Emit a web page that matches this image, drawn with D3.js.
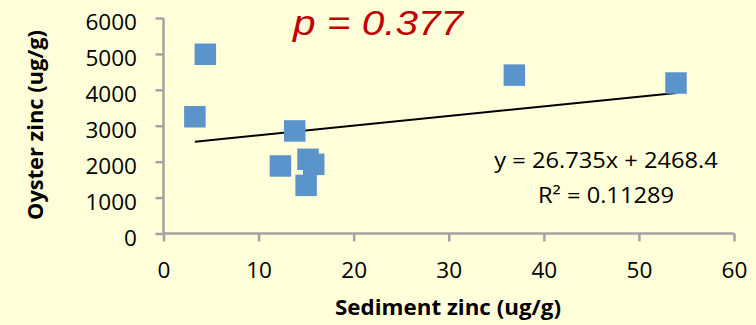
<!DOCTYPE html>
<html>
<head>
<meta charset="utf-8">
<script src="https://cdn.jsdelivr.net/npm/d3@7"></script>
<style>
  html, body { margin: 0; padding: 0; background: #FFFFD9; }
  svg { display: block; }
  text { font-family: "Open Sans", "Noto Sans", sans-serif; fill: #000; }
</style>
</head>
<body>
<svg id="chart" width="756" height="325"></svg>
<script>
// Sediment vs oyster zinc concentrations (ug/g)
const sedimentZinc = [4.4, 3.3, 13.8, 12.3, 15.0, 15.2, 15.8, 36.9, 53.9];
const oysterZinc   = [4990, 3250, 2855, 1880, 1340, 2065, 1925, 4410, 4190];

const xTicks = [0, 10, 20, 30, 40, 50, 60];
const yTicks = [0, 1000, 2000, 3000, 4000, 5000, 6000];

// Linear fit reported on the chart
const slope = 26.735;
const intercept = 2468.4;
const rSquared = "0.11289";
const pValue = "0.377";

const xTitle = "Sediment zinc (ug/g)";
const yTitle = "Oyster zinc (ug/g)";

const svg = d3.select("#chart");
const plotLeft = 163.5, plotRight = 734, plotTop = 18, plotBottom = 233.5;

const x = d3.scaleLinear().domain([0, 60]).range([plotLeft, plotRight]);
const y = d3.scaleLinear().domain([0, 6000]).range([plotBottom, plotTop]);

const axisColor = "#A3A3A3";
const digitW = 12.9;

// x axis
const gx = svg.append("g")
  .attr("transform", `translate(0,${plotBottom})`)
  .call(d3.axisBottom(x).tickValues(xTicks).tickSize(8).tickPadding(0).tickFormat(d3.format("d")));
// y axis
const gy = svg.append("g")
  .attr("transform", `translate(${plotLeft},0)`)
  .call(d3.axisLeft(y).tickValues(yTicks).tickSize(8).tickPadding(0).tickFormat(d3.format("d")));

[gx, gy].forEach(g => {
  g.select(".domain").attr("stroke", axisColor).attr("stroke-width", 2.5);
  g.selectAll(".tick line").attr("stroke", axisColor).attr("stroke-width", 2.5);
  g.selectAll(".tick text")
    .attr("font-size", 21)
    .attr("textLength", d => String(d).length * digitW)
    .attr("lengthAdjust", "spacingAndGlyphs");
});
gx.select(".domain").attr("d", `M${plotLeft},0H${plotRight}`);
gy.select(".domain").attr("d", `M0,${plotBottom}V${plotTop}`);
gx.selectAll(".tick text").attr("dy", null).attr("y", 44.5);
gy.selectAll(".tick text").attr("dy", null).attr("x", -26.5).attr("y", 11.5);

// trendline spanning the observed sediment range
const xMin = d3.min(sedimentZinc), xMax = d3.max(sedimentZinc);
svg.append("line")
  .attr("x1", x(xMin)).attr("y1", y(slope * xMin + intercept))
  .attr("x2", x(xMax)).attr("y2", y(slope * xMax + intercept))
  .attr("stroke", "#000").attr("stroke-width", 2);

// square markers
const size = 21.5;
svg.append("g").selectAll("rect")
  .data(sedimentZinc.map((s, i) => [s, oysterZinc[i]]))
  .join("rect")
  .attr("x", d => x(d[0]) - size / 2)
  .attr("y", d => y(d[1]) - size / 2)
  .attr("width", size).attr("height", size)
  .attr("fill", "#5B94CA");

// regression equation label: two centred lines, slightly widened glyphs
const eq = svg.append("g").attr("transform", "translate(606,0) scale(1.127,1)");
eq.append("text")
  .attr("x", 0).attr("y", 168)
  .attr("text-anchor", "middle")
  .attr("font-size", 21)
  .text(`y = ${slope}x + ${intercept}`);
eq.append("text")
  .attr("x", 0).attr("y", 203)
  .attr("text-anchor", "middle")
  .attr("font-size", 21)
  .text(`R² = ${rSquared}`);

// p-value
svg.append("text")
  .attr("x", 293).attr("y", 35)
  .style("font-family", "'Liberation Sans', Arial, sans-serif")
  .style("font-style", "italic")
  .style("fill", "#C00000")
  .attr("font-size", 35)
  .attr("textLength", 170).attr("lengthAdjust", "spacingAndGlyphs")
  .text(`p = ${pValue}`);

// axis titles
svg.append("text")
  .attr("x", 335).attr("y", 315)
  .attr("font-size", 21).attr("font-weight", "bold")
  .attr("textLength", 226).attr("lengthAdjust", "spacingAndGlyphs")
  .text(xTitle);
svg.append("text")
  .attr("transform", "translate(43,220) rotate(-90)")
  .attr("font-size", 21).attr("font-weight", "bold")
  .attr("textLength", 190).attr("lengthAdjust", "spacingAndGlyphs")
  .text(yTitle);
</script>
</body>
</html>
